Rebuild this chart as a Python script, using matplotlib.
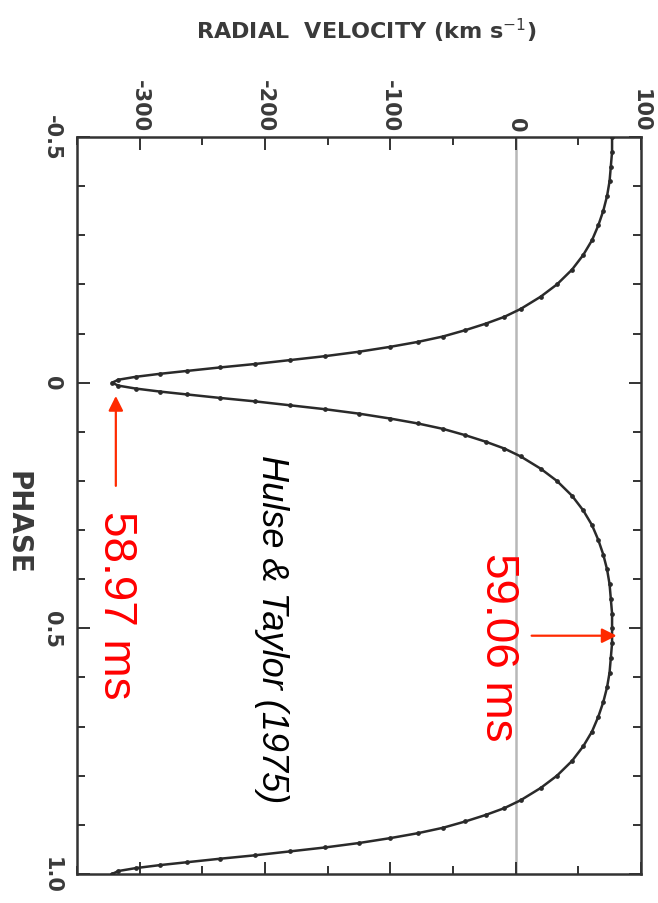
import matplotlib
matplotlib.use('Agg')
import matplotlib.pyplot as plt
from matplotlib.ticker import MultipleLocator

# Orbital phase and radial velocity (km/s)
phase = [-0.500, -0.470, -0.440, -0.410, -0.380, -0.350, -0.320, -0.290, -0.260,
         -0.230, -0.200, -0.175, -0.150, -0.134, -0.120, -0.107, -0.094, -0.083,
         -0.073, -0.063, -0.054, -0.046, -0.038, -0.031, -0.024, -0.018, -0.012,
         -0.006, 0.000, 0.006, 0.012, 0.018, 0.024, 0.031, 0.038, 0.046, 0.054,
         0.063, 0.073, 0.083, 0.094, 0.107, 0.120, 0.134, 0.150, 0.175, 0.200,
         0.230, 0.260, 0.290, 0.320, 0.350, 0.380, 0.410, 0.440, 0.470, 0.500,
         0.530, 0.560, 0.590, 0.620, 0.650, 0.680, 0.710, 0.740, 0.770, 0.800,
         0.825, 0.850, 0.866, 0.880, 0.893, 0.906, 0.917, 0.927, 0.937, 0.946,
         0.954, 0.962, 0.969, 0.976, 0.982, 0.988, 0.994, 1.000]
velocity = [77, 77, 76, 75, 73, 70, 66, 61, 54,
            45, 33, 20, 4, -9, -24, -40, -58, -78,
            -100, -125, -152, -180, -208, -236, -262, -284, -303,
            -317, -322, -317, -303, -284, -262, -236, -208, -180, -152,
            -125, -100, -78, -58, -40, -24, -9, 4, 20, 33,
            45, 54, 61, 66, 70, 73, 75, 76, 77, 77,
            77, 76, 75, 73, 70, 66, 61, 54, 45, 33,
            20, 4, -9, -24, -40, -58, -78, -100, -125, -152,
            -180, -208, -236, -262, -284, -303, -317, -322]

vel_ticks = [-300, -200, -100, 0, 100]
vel_tick_labels = ['-300', '-200', '-100', '0', '100']
phase_ticks = [-0.5, 0.0, 0.5, 1.0]
phase_tick_labels = ['-0.5', '0', '0.5', '1.0']

fig = plt.figure(figsize=(6.58, 9.04), dpi=100)
ax = fig.add_axes([0.117, 0.0321, 0.857, 0.8152])
ax.set_xlim(-350, 100)
ax.set_ylim(1.0, -0.5)

ax.axvline(0, color='#b8b8b8', lw=1.8, zorder=1)
ax.plot(velocity, phase, color='#2a2a2a', lw=1.8, marker='o', ms=2.4,
        zorder=3)

dark = '#333333'
for s in ax.spines.values():
    s.set_color(dark)
    s.set_linewidth(1.8)

ax.xaxis.tick_top()
ax.set_xticks(vel_ticks)
ax.set_xticklabels(vel_tick_labels, rotation=-90, fontsize=15,
                   fontweight='bold', color='#3a3a3a')
ax.set_yticks(phase_ticks)
ax.set_yticklabels(phase_tick_labels, rotation=-90, va='center',
                   fontsize=15, fontweight='bold', color='#3a3a3a')
ax.xaxis.set_minor_locator(MultipleLocator(50))
ax.yaxis.set_minor_locator(MultipleLocator(0.1))
ax.tick_params(which='both', direction='in', top=True, bottom=True,
               left=True, right=True, labeltop=True, labelbottom=False,
               color=dark, width=1.4)
ax.tick_params(axis='x', which='major', length=9, pad=4)
ax.tick_params(axis='y', which='major', length=9, pad=11)
ax.tick_params(which='minor', length=6)

fig.text(0.556, 0.966, 'RADIAL  VELOCITY (km s$^{-1}$)', ha='center',
         va='center', fontsize=16, fontweight='bold', color='#3a3a3a')
fig.text(0.027, 0.4215, 'PHASE', rotation=-90, ha='center', va='center',
         fontsize=20, fontweight='bold', color='#3a3a3a')

# Annotations
ax.annotate('', xy=(-319, 0.027), xytext=(-319, 0.210),
            arrowprops=dict(arrowstyle='-|>', color='#ff2a00', lw=1.6,
                            mutation_scale=22, shrinkA=0, shrinkB=0))
ax.text(-319, 0.450, '58.97 ms', rotation=-90, ha='center', va='center',
        fontsize=33, color='#ff0000', family=['Liberation Sans', 'DejaVu Sans'])

ax.annotate('', xy=(80.6, 0.515), xytext=(12.8, 0.515),
            arrowprops=dict(arrowstyle='-|>', color='#ff2a00', lw=1.6,
                            mutation_scale=22, shrinkA=0, shrinkB=0))
ax.text(-14.4, 0.536, '59.06 ms', rotation=-90, ha='center', va='center',
        fontsize=33, color='#ff0000', family=['Liberation Sans', 'DejaVu Sans'])

ax.text(-195, 0.499, 'Hulse & Taylor (1975)', rotation=-90, ha='center',
        va='center', fontsize=26, style='italic', color='black',
        family=['Liberation Sans', 'DejaVu Sans'])

fig.savefig('out.png', dpi=100)
